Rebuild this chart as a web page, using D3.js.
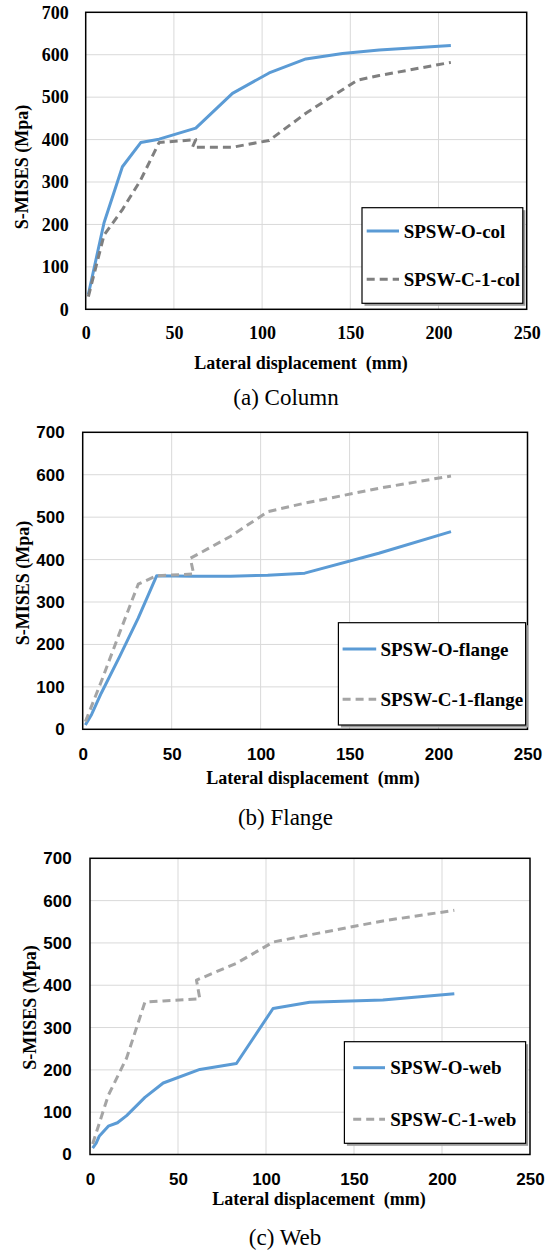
<!DOCTYPE html>
<html>
<head>
<meta charset="utf-8">
<script src="https://cdn.jsdelivr.net/npm/d3@7"></script>
<style>
  body { margin: 0; background: #fff; }
  svg { display: block; }
</style>
</head>
<body>
<div id="chart"></div>
<script>
// data (displacement in mm, stress in MPa)
const colOX = [1.5, 10.4, 20.8, 31.2, 41.6, 62.4, 83.2, 104, 124.8, 145.6, 166.4, 207];
const colO = [35, 204, 336, 393, 401, 427, 509, 557, 590, 603, 611, 622];
const colC1X = [1.5, 10.4, 20.8, 31.2, 41.6, 62.4, 60.5, 83.2, 104, 124.8, 154, 166.4, 207];
const colC1 = [30, 175, 235, 305, 393, 400, 382, 382, 398, 462, 540, 551, 582];

const flangeOX = [1.5, 5, 10.4, 20.8, 31.2, 41.6, 62.4, 83.2, 104, 124.8, 166.4, 207];
const flangeO = [10, 35, 85, 172, 262, 362, 361, 361, 363, 368, 415, 466];
const flangeC1X = [1.5, 10.4, 20.8, 31.2, 41.6, 62.4, 60.5, 83.2, 104, 124.8, 166.4, 207];
const flangeC1 = [18, 112, 228, 342, 362, 366, 403, 455, 513, 533, 568, 597];

const webOX = [1.5, 3.5, 5.2, 10.4, 15.6, 20.8, 31.2, 41.6, 62.4, 83.2, 104, 124.8, 166.4, 207];
const webO = [15, 27, 43, 67, 75, 92, 135, 169, 201, 215, 345, 360, 365, 380];
const webC1X = [1.5, 10.4, 20.8, 31.2, 41.6, 62.4, 60.5, 83.2, 104, 124.8, 166.4, 207];
const webC1 = [25, 140, 228, 360, 363, 368, 412, 452, 502, 519, 552, 577];

const xTicks = [0, 50, 100, 150, 200, 250];
const yTicks = [0, 100, 200, 300, 400, 500, 600, 700];

const serif = "'Liberation Serif', 'Times New Roman', serif";
const sans = "'Liberation Sans', Arial, sans-serif";
const blue = "#5b9bd5";

const svg = d3.select("#chart").append("svg")
    .attr("width", 551)
    .attr("height", 1251);

const panels = [
    {
        box: {left: 85.7, right: 526.7, top: 12.3, bottom: 309.3},
        tickFont: serif, tickOffset: 17, xTickY: 333,
        yTitle: {x: 22, y: 167}, xTitle: {x: 301, y: 363},
        caption: {text: "(a) Column", x: 286, y: 397},
        legend: {x0: 362, x1: 522.8, y0: 207.7, y1: 303.3, rows: [231, 279.3], lx0: 366.7, lx1: 399, tx: 403.7},
        series: [
            {name: "SPSW-O-col", xs: colOX, ys: colO, color: blue, dash: null},
            {name: "SPSW-C-1-col", xs: colC1X, ys: colC1, color: "#7f7f7f", dash: "8,5"}
        ]
    },
    {
        box: {left: 82.7, right: 527.5, top: 432.3, bottom: 729.3},
        tickFont: sans, tickOffset: 18, xTickY: 754,
        yTitle: {x: 23, y: 583}, xTitle: {x: 313, y: 778},
        caption: {text: "(b) Flange", x: 285.5, y: 817},
        legend: {x0: 338.4, x1: 525.6, y0: 622.7, y1: 725, rows: [649, 699.3], lx0: 342.6, lx1: 376.2, tx: 380.4},
        series: [
            {name: "SPSW-O-flange", xs: flangeOX, ys: flangeO, color: blue, dash: null},
            {name: "SPSW-C-1-flange", xs: flangeC1X, ys: flangeC1, color: "#a5a5a5", dash: "8,5"}
        ]
    },
    {
        box: {left: 90, right: 530, top: 858.3, bottom: 1154.5},
        tickFont: sans, tickOffset: 18.3, xTickY: 1179,
        yTitle: {x: 30, y: 1007.5}, xTitle: {x: 319, y: 1199},
        caption: {text: "(c) Web", x: 285, y: 1237},
        legend: {x0: 344.4, x1: 525.6, y0: 1041.7, y1: 1143.3, rows: [1067.7, 1119.3], lx0: 353.2, lx1: 385, tx: 390.3},
        series: [
            {name: "SPSW-O-web", xs: webOX, ys: webO, color: blue, dash: null},
            {name: "SPSW-C-1-web", xs: webC1X, ys: webC1, color: "#a5a5a5", dash: "8,5"}
        ]
    }
];

panels.forEach(p => drawPanel(p));

function drawPanel(p) {
    let b = p.box;
    let g = svg.append("g");

    let x = d3.scaleLinear().domain([0, 250]).range([b.left, b.right]);
    let y = d3.scaleLinear().domain([0, 700]).range([b.bottom, b.top]);

    // gridlines
    g.selectAll(".vgrid")
        .data(xTicks.slice(1, -1))
        .enter().append("line")
        .attr("x1", d => x(d)).attr("x2", d => x(d))
        .attr("y1", b.top).attr("y2", b.bottom)
        .attr("stroke", "#d9d9d9").attr("stroke-width", 1);
    g.selectAll(".hgrid")
        .data(yTicks.slice(1, -1))
        .enter().append("line")
        .attr("x1", b.left).attr("x2", b.right)
        .attr("y1", d => y(d)).attr("y2", d => y(d))
        .attr("stroke", "#d9d9d9").attr("stroke-width", 1);

    // axes with tick labels only
    let xAxis = d3.axisBottom(x).tickValues(xTicks).tickSize(0).tickPadding(0);
    let gx = g.append("g").attr("transform", `translate(0,${p.xTickY})`).call(xAxis);
    gx.select(".domain").remove();
    gx.selectAll("text")
        .attr("dy", "0.35em")
        .style("font-family", p.tickFont)
        .style("font-weight", "bold")
        .style("font-size", p.tickFont === serif ? "18px" : "17px")
        .attr("fill", "#000");

    let yAxis = d3.axisLeft(y).tickValues(yTicks).tickSize(0).tickPadding(p.tickOffset);
    let gy = g.append("g").attr("transform", `translate(${b.left},0)`).call(yAxis);
    gy.select(".domain").remove();
    gy.selectAll("text")
        .style("font-family", p.tickFont)
        .style("font-weight", "bold")
        .style("font-size", p.tickFont === serif ? "18px" : "17px")
        .attr("fill", "#000");

    // series lines
    let line = d3.line().x(d => x(d[0])).y(d => y(d[1]));
    p.series.forEach(s => {
        g.append("path")
            .datum(s.xs.map((v, i) => [v, s.ys[i]]))
            .attr("d", line)
            .attr("fill", "none")
            .attr("stroke", s.color)
            .attr("stroke-width", 3)
            .attr("stroke-linejoin", "round")
            .attr("stroke-dasharray", s.dash);
    });

    // plot border
    g.append("rect")
        .attr("x", b.left).attr("y", b.top)
        .attr("width", b.right - b.left).attr("height", b.bottom - b.top)
        .attr("fill", "none").attr("stroke", "#000").attr("stroke-width", 1.5);

    // legend
    let L = p.legend;
    g.append("rect")
        .attr("x", L.x0 + 2.5).attr("y", L.y0 + 2.5)
        .attr("width", L.x1 - L.x0).attr("height", L.y1 - L.y0)
        .attr("fill", "#9a9a9a");
    g.append("rect")
        .attr("x", L.x0).attr("y", L.y0)
        .attr("width", L.x1 - L.x0).attr("height", L.y1 - L.y0)
        .attr("fill", "#fff").attr("stroke", "#000").attr("stroke-width", 1.2);
    p.series.forEach((s, i) => {
        g.append("line")
            .attr("x1", L.lx0).attr("x2", L.lx1)
            .attr("y1", L.rows[i]).attr("y2", L.rows[i])
            .attr("stroke", s.color).attr("stroke-width", 3)
            .attr("stroke-dasharray", s.dash);
        g.append("text")
            .attr("x", L.tx).attr("y", L.rows[i])
            .attr("dy", "0.35em")
            .style("font-family", serif)
            .style("font-weight", "bold")
            .style("font-size", "19px")
            .text(s.name);
    });

    // axis titles
    g.append("text")
        .attr("transform", `translate(${p.yTitle.x},${p.yTitle.y}) rotate(-90)`)
        .attr("text-anchor", "middle")
        .attr("dy", "0.35em")
        .style("font-family", serif)
        .style("font-weight", "bold")
        .style("font-size", "18px")
        .text("S-MISES (Mpa)");
    g.append("text")
        .attr("x", p.xTitle.x).attr("y", p.xTitle.y)
        .attr("text-anchor", "middle")
        .attr("dy", "0.35em")
        .style("font-family", serif)
        .style("font-weight", "bold")
        .style("font-size", "18px")
        .attr("xml:space", "preserve")
        .text("Lateral displacement  (mm)");

    // caption
    g.append("text")
        .attr("x", p.caption.x).attr("y", p.caption.y)
        .attr("text-anchor", "middle")
        .attr("dy", "0.35em")
        .style("font-family", serif)
        .style("font-size", "23px")
        .text(p.caption.text);
}
</script>
</body>
</html>
